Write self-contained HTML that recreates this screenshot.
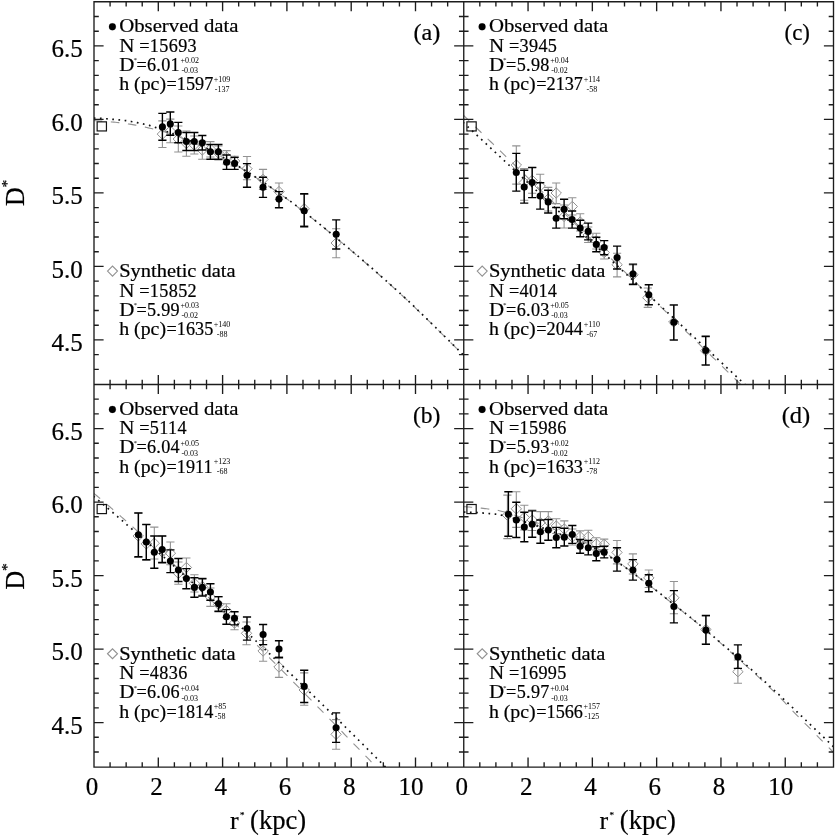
<!DOCTYPE html>
<html lang="en">
<head>
<meta charset="utf-8">
<title>Density profiles</title>
<style>html,body{margin:0;padding:0;background:#fff}svg{display:block}</style>
</head>
<body>
<svg width="836" height="836" viewBox="0 0 836 836">
<rect width="836" height="836" fill="#fff"/>
<defs>
<clipPath id="cpa"><rect x="94" y="1.75" width="369.75" height="382.75"/></clipPath>
<clipPath id="cpb"><rect x="94" y="384.5" width="369.75" height="382.55"/></clipPath>
<clipPath id="cpc"><rect x="463.75" y="1.75" width="369.75" height="382.75"/></clipPath>
<clipPath id="cpd"><rect x="463.75" y="384.5" width="369.75" height="382.55"/></clipPath>
</defs>
<g clip-path="url(#cpa)">
<polyline points="93.7,120.5 94.77,120.59 96.13,120.69 97.73,120.81 99.53,120.95 101.48,121.1 103.53,121.26 105.65,121.42 107.77,121.6 109.87,121.77 111.89,121.95 113.78,122.13 115.5,122.3 117.09,122.47 118.62,122.64 120.1,122.81 121.54,122.98 122.95,123.16 124.34,123.34 125.71,123.52 127.07,123.72 128.43,123.92 129.8,124.14 131.19,124.36 132.6,124.6 134.02,124.85 135.43,125.11 136.82,125.37 138.21,125.64 139.61,125.92 141.01,126.21 142.42,126.51 143.84,126.83 145.29,127.15 146.76,127.49 148.26,127.84 149.8,128.2 151.39,128.58 153.04,128.97 154.74,129.38 156.47,129.8 158.22,130.24 159.98,130.68 161.73,131.13 163.47,131.6 165.18,132.06 166.84,132.54 168.45,133.02 170,133.5 171.45,133.98 172.82,134.44 174.11,134.9 175.35,135.36 176.56,135.83 177.76,136.31 178.98,136.81 180.23,137.34 181.54,137.89 182.92,138.48 184.4,139.12 186,139.8 187.73,140.54 189.58,141.32 191.53,142.15 193.56,143.02 195.64,143.92 197.75,144.84 199.88,145.78 202,146.73 204.09,147.69 206.14,148.64 208.11,149.58 210,150.5 211.8,151.41 213.55,152.32 215.25,153.23 216.91,154.13 218.54,155.05 220.16,155.96 221.76,156.89 223.37,157.82 224.99,158.77 226.63,159.73 228.29,160.71 230,161.7 231.69,162.67 233.3,163.59 234.87,164.48 236.43,165.37 237.99,166.26 239.59,167.19 241.26,168.17 243.02,169.22 244.89,170.37 246.92,171.64 249.11,173.04 251.5,174.6 254.08,176.29 256.8,178.09 259.66,179.97 262.65,181.96 265.75,184.04 268.97,186.21 272.28,188.48 275.69,190.84 279.17,193.29 282.72,195.84 286.33,198.47 290,201.2 293.73,204.01 297.53,206.91 301.41,209.9 305.36,212.98 309.4,216.15 313.52,219.41 317.72,222.77 322,226.23 326.37,229.79 330.83,233.46 335.37,237.22 340,241.1 344.76,245.11 349.68,249.27 354.73,253.57 359.89,257.99 365.13,262.5 370.43,267.1 375.77,271.77 381.13,276.48 386.47,281.23 391.78,285.99 397.03,290.76 402.2,295.5 407.47,300.41 412.97,305.62 418.62,311.05 424.34,316.59 430.06,322.17 435.68,327.69 441.13,333.07 446.32,338.21 451.18,343.02 455.61,347.42 459.55,351.31 462.9,354.6 465.65,357.29 467.87,359.48 469.63,361.21 470.98,362.56 472,363.59 472.74,364.34 473.28,364.9 473.66,365.3 473.96,365.63 474.25,365.93 474.57,366.26 475,366.7" fill="none" stroke="#929292" stroke-width="1.1" stroke-dasharray="8.6 8.6"/>
<path d="M162.4 120.9V147.5M158.3 120.9H166.5M158.3 147.5H166.5M170.3 119.1V142.8M166.2 119.1H174.4M166.2 142.8H174.4M178.3 126V152M174.2 126H182.4M174.2 152H182.4M186.4 131V156.2M182.3 131H190.5M182.3 156.2H190.5M194.3 136V154M190.2 136H198.4M190.2 154H198.4M202.3 141.3V159.2M198.2 141.3H206.4M198.2 159.2H206.4M210.4 141.6V157M206.3 141.6H214.5M206.3 157H214.5M218.4 146V160M214.3 146H222.5M214.3 160H222.5M226.6 150.6V164M222.5 150.6H230.7M222.5 164H230.7M234.6 156.2V166M230.5 156.2H238.7M230.5 166H238.7M247 156.5V179.7M242.9 156.5H251.1M242.9 179.7H251.1M263 169.4V189.5M258.9 169.4H267.1M258.9 189.5H267.1M279 183V199.5M274.9 183H283.1M274.9 199.5H283.1M304.2 194.5V225.5M300.1 194.5H308.3M300.1 225.5H308.3M336.2 228.7V257.7M332.1 228.7H340.3M332.1 257.7H340.3" fill="none" stroke="#929292" stroke-width="1.1"/>
<path d="M157.2 134.1L162.4 128.9L167.6 134.1L162.4 139.3ZM165.1 131L170.3 125.8L175.5 131L170.3 136.2ZM173.1 139L178.3 133.8L183.5 139L178.3 144.2ZM181.2 143.5L186.4 138.3L191.6 143.5L186.4 148.7ZM189.1 145L194.3 139.8L199.5 145L194.3 150.2ZM197.1 150L202.3 144.8L207.5 150L202.3 155.2ZM205.2 149L210.4 143.8L215.6 149L210.4 154.2ZM213.2 153L218.4 147.8L223.6 153L218.4 158.2ZM221.4 157L226.6 151.8L231.8 157L226.6 162.2ZM229.4 161L234.6 155.8L239.8 161L234.6 166.2ZM241.8 168.7L247 163.5L252.2 168.7L247 173.9ZM257.8 179.4L263 174.2L268.2 179.4L263 184.6ZM273.8 191.6L279 186.4L284.2 191.6L279 196.8ZM299 208.8L304.2 203.6L309.4 208.8L304.2 214ZM331 243L336.2 237.8L341.4 243L336.2 248.2Z" fill="none" stroke="#929292" stroke-width="1.0"/>
<polyline points="93.7,118.2 94.05,118.21 94.46,118.21 94.92,118.21 95.45,118.22 96.02,118.22 96.65,118.23 97.32,118.24 98.04,118.26 98.8,118.28 99.6,118.31 100.43,118.35 101.3,118.4 102.22,118.46 103.22,118.53 104.28,118.6 105.4,118.69 106.55,118.77 107.74,118.87 108.94,118.97 110.16,119.07 111.37,119.18 112.58,119.28 113.75,119.39 114.9,119.5 116.01,119.6 117.1,119.7 118.18,119.8 119.24,119.9 120.31,120 121.38,120.1 122.46,120.21 123.56,120.34 124.69,120.48 125.85,120.63 127.05,120.8 128.3,121 129.62,121.22 131.02,121.47 132.49,121.74 134,122.03 135.54,122.34 137.08,122.65 138.62,122.97 140.12,123.29 141.58,123.61 142.98,123.92 144.29,124.22 145.5,124.5 146.55,124.75 147.41,124.94 148.14,125.11 148.77,125.26 149.36,125.4 149.95,125.56 150.58,125.74 151.3,125.97 152.16,126.25 153.2,126.61 154.46,127.05 156,127.6 157.84,128.26 159.94,129.02 162.27,129.88 164.78,130.8 167.42,131.78 170.16,132.81 172.94,133.86 175.72,134.92 178.46,135.98 181.12,137.03 183.65,138.04 186,139 188.22,139.93 190.39,140.85 192.52,141.77 194.59,142.68 196.63,143.59 198.62,144.49 200.59,145.4 202.52,146.31 204.42,147.22 206.3,148.14 208.16,149.07 210,150 211.8,150.94 213.55,151.87 215.25,152.81 216.91,153.74 218.54,154.69 220.16,155.63 221.76,156.58 223.37,157.54 224.99,158.51 226.63,159.5 228.29,160.49 230,161.5 231.69,162.48 233.3,163.41 234.87,164.31 236.43,165.19 237.99,166.08 239.59,167.01 241.26,167.98 243.02,169.03 244.89,170.18 246.92,171.44 249.11,172.84 251.5,174.4 254.08,176.09 256.8,177.89 259.66,179.78 262.65,181.76 265.75,183.84 268.97,186.01 272.28,188.28 275.69,190.64 279.17,193.09 282.72,195.64 286.33,198.27 290,201 293.73,203.81 297.53,206.71 301.41,209.7 305.36,212.78 309.4,215.95 313.52,219.21 317.72,222.57 322,226.03 326.37,229.59 330.83,233.26 335.37,237.02 340,240.9 344.76,244.91 349.68,249.07 354.73,253.37 359.89,257.79 365.13,262.3 370.43,266.9 375.77,271.57 381.13,276.28 386.47,281.03 391.78,285.79 397.03,290.56 402.2,295.3 407.47,300.21 412.97,305.42 418.62,310.85 424.34,316.39 430.06,321.97 435.68,327.49 441.13,332.87 446.32,338.01 451.18,342.82 455.61,347.22 459.55,351.11 462.9,354.4 465.65,357.09 467.87,359.28 469.63,361.01 470.98,362.36 472,363.39 472.74,364.14 473.28,364.7 473.66,365.1 473.96,365.43 474.25,365.73 474.57,366.06 475,366.5" fill="none" stroke="#111" stroke-width="1.7" stroke-dasharray="1.7 4.5"/>
<path d="M162.4 113.4V140.3M158.3 113.4H166.5M158.3 140.3H166.5M170.3 112V135.3M166.2 112H174.4M166.2 135.3H174.4M178.3 122.4V142.8M174.2 122.4H182.4M174.2 142.8H182.4M186.4 132.5V150.5M182.3 132.5H190.5M182.3 150.5H190.5M194.3 132.5V150.5M190.2 132.5H198.4M190.2 150.5H198.4M202.3 135.5V150M198.2 135.5H206.4M198.2 150H206.4M210.4 144.5V159.2M206.3 144.5H214.5M206.3 159.2H214.5M218.4 144.5V159.2M214.3 144.5H222.5M214.3 159.2H222.5M226.6 155V169.4M222.5 155H230.7M222.5 169.4H230.7M234.6 157.4V169.4M230.5 157.4H238.7M230.5 169.4H238.7M247 163.6V187.3M242.9 163.6H251.1M242.9 187.3H251.1M263 177.3V197.4M258.9 177.3H267.1M258.9 197.4H267.1M279 191.6V207.7M274.9 191.6H283.1M274.9 207.7H283.1M304.2 193.8V226.8M300.1 193.8H308.3M300.1 226.8H308.3M336.2 219.9V249M332.1 219.9H340.3M332.1 249H340.3" fill="none" stroke="#000" stroke-width="1.4"/>
<circle cx="162.4" cy="126.9" r="3.55" fill="#000"/>
<circle cx="170.3" cy="123.9" r="3.55" fill="#000"/>
<circle cx="178.3" cy="132.5" r="3.55" fill="#000"/>
<circle cx="186.4" cy="141.5" r="3.55" fill="#000"/>
<circle cx="194.3" cy="141.5" r="3.55" fill="#000"/>
<circle cx="202.3" cy="142.7" r="3.55" fill="#000"/>
<circle cx="210.4" cy="151.8" r="3.55" fill="#000"/>
<circle cx="218.4" cy="151.8" r="3.55" fill="#000"/>
<circle cx="226.6" cy="162.2" r="3.55" fill="#000"/>
<circle cx="234.6" cy="163.4" r="3.55" fill="#000"/>
<circle cx="247" cy="175.3" r="3.55" fill="#000"/>
<circle cx="263" cy="187.3" r="3.55" fill="#000"/>
<circle cx="279" cy="199.1" r="3.55" fill="#000"/>
<circle cx="304.2" cy="210.7" r="3.55" fill="#000"/>
<circle cx="336.2" cy="234.3" r="3.55" fill="#000"/>
</g>
<g clip-path="url(#cpb)">
<polyline points="93.5,493 94.22,493.62 95.13,494.38 96.2,495.28 97.39,496.29 98.69,497.38 100.06,498.54 101.49,499.75 102.94,500.98 104.4,502.21 105.83,503.43 107.2,504.6 108.5,505.71 109.75,506.78 111,507.86 112.25,508.94 113.5,510.02 114.75,511.1 116,512.18 117.25,513.27 118.5,514.35 119.75,515.44 121,516.54 122.25,517.63 123.5,518.73 124.75,519.82 126,520.92 127.25,522.03 128.5,523.13 129.75,524.24 131,525.35 132.25,526.46 133.5,527.57 134.75,528.68 136,529.8 137.25,530.92 138.5,532.03 139.75,533.16 141,534.28 142.25,535.41 143.5,536.53 144.75,537.66 146,538.79 147.25,539.93 148.5,541.06 149.75,542.2 151,543.33 152.25,544.47 153.5,545.62 154.75,546.76 156,547.9 157.25,549.05 158.5,550.2 159.75,551.35 161,552.5 162.25,553.66 163.5,554.81 164.75,555.97 166,557.13 167.25,558.29 168.5,559.45 169.75,560.61 171,561.78 172.25,562.95 173.5,564.11 174.75,565.29 176,566.46 177.25,567.63 178.5,568.81 179.75,569.98 181,571.16 182.25,572.34 183.5,573.52 184.75,574.7 186,575.89 187.25,577.07 188.5,578.26 189.75,579.45 191,580.64 192.25,581.83 193.5,583.02 194.75,584.22 196,585.41 197.25,586.61 198.5,587.81 199.75,589.01 201,590.21 202.25,591.41 203.5,592.61 204.75,593.82 206,595.02 207.25,596.23 208.5,597.44 209.75,598.65 211,599.86 212.25,601.07 213.5,602.29 214.75,603.5 216,604.72 217.25,605.94 218.5,607.16 219.75,608.38 221,609.6 222.25,610.82 223.5,612.04 224.75,613.27 226,614.49 227.25,615.72 228.5,616.95 229.75,618.18 231,619.41 232.25,620.64 233.5,621.87 234.75,623.11 236,624.34 237.25,625.58 238.5,626.81 239.75,628.05 241,629.29 242.25,630.53 243.5,631.77 244.75,633.01 246,634.25 247.25,635.5 248.5,636.74 249.75,637.99 251,639.23 252.25,640.48 253.5,641.73 254.75,642.98 256,644.23 257.25,645.48 258.5,646.73 259.75,647.98 261,649.24 262.25,650.49 263.5,651.75 264.75,653 266,654.26 267.25,655.52 268.5,656.77 269.75,658.03 271,659.29 272.25,660.55 273.5,661.81 274.75,663.08 276,664.34 277.25,665.6 278.5,666.86 279.75,668.13 281,669.39 282.25,670.66 283.5,671.93 284.75,673.19 286,674.46 287.25,675.73 288.5,677 289.75,678.27 291,679.54 292.25,680.81 293.5,682.08 294.75,683.35 296,684.62 297.25,685.9 298.5,687.17 299.75,688.44 301,689.72 302.25,690.99 303.5,692.27 304.75,693.54 306,694.82 307.25,696.1 308.5,697.37 309.75,698.65 311,699.93 312.25,701.21 313.5,702.49 314.75,703.76 316,705.04 317.25,706.32 318.5,707.6 319.75,708.88 321,710.16 322.25,711.44 323.5,712.73 324.75,714.01 326,715.29 327.25,716.57 328.5,717.85 329.75,719.14 331,720.42 332.25,721.7 333.5,722.98 334.75,724.27 336,725.55 337.25,726.83 338.5,728.12 339.75,729.4 341,730.69 342.25,731.97 343.5,733.25 344.75,734.54 346,735.82 347.25,737.11 348.5,738.39 349.75,739.68 351,740.96 352.25,742.25 353.5,743.53 354.75,744.82 356,746.1 357.25,747.38 358.5,748.67 359.75,749.95 361,751.24 362.25,752.52 363.5,753.81 364.75,755.09 366,756.38 367.25,757.66 368.5,758.95 369.75,760.23 371,761.51 372.25,762.8 373.5,764.08 374.75,765.36 376,766.65 377.25,767.93 378.5,769.21 379.8,770.55 381.17,771.96 382.6,773.42 384.06,774.91 385.51,776.4 386.94,777.87 388.31,779.28 389.61,780.61 390.8,781.83 391.87,782.92 392.78,783.85 393.5,784.59" fill="none" stroke="#929292" stroke-width="1.1" stroke-dasharray="8.6 8.6"/>
<path d="M138.2 513V557.5M134.1 513H142.3M134.1 557.5H142.3M146.3 524.5V560.3M142.2 524.5H150.4M142.2 560.3H150.4M154.3 527.1V559M150.2 527.1H158.4M150.2 559H158.4M162.2 536V563.3M158.1 536H166.3M158.1 563.3H166.3M170.4 542V564.7M166.3 542H174.5M166.3 564.7H174.5M178.4 562V584.3M174.3 562H182.5M174.3 584.3H182.5M186.4 558V577.5M182.3 558H190.5M182.3 577.5H190.5M194.4 574.7V592M190.3 574.7H198.5M190.3 592H198.5M202.4 578V595M198.3 578H206.5M198.3 595H206.5M210.4 588V606.4M206.3 588H214.5M206.3 606.4H214.5M218.5 597V612M214.4 597H222.6M214.4 612H222.6M226.4 603.8V617.5M222.3 603.8H230.5M222.3 617.5H230.5M234.5 616V629.7M230.4 616H238.6M230.4 629.7H238.6M246.5 622V644.7M242.4 622H250.6M242.4 644.7H250.6M263.1 640.5V661.2M259 640.5H267.2M259 661.2H267.2M279 656.5V677.4M274.9 656.5H283.1M274.9 677.4H283.1M304.2 672.9V705.2M300.1 672.9H308.3M300.1 705.2H308.3M336.1 719.6V749.2M332 719.6H340.2M332 749.2H340.2" fill="none" stroke="#929292" stroke-width="1.1"/>
<path d="M133 536L138.2 530.8L143.4 536L138.2 541.2ZM141.1 543.9L146.3 538.7L151.5 543.9L146.3 549.1ZM149.1 543.2L154.3 538L159.5 543.2L154.3 548.4ZM157 552L162.2 546.8L167.4 552L162.2 557.2ZM165.2 553.2L170.4 548L175.6 553.2L170.4 558.4ZM173.2 573.3L178.4 568.1L183.6 573.3L178.4 578.5ZM181.2 567.5L186.4 562.3L191.6 567.5L186.4 572.7ZM189.2 583.3L194.4 578.1L199.6 583.3L194.4 588.5ZM197.2 586.5L202.4 581.3L207.6 586.5L202.4 591.7ZM205.2 597L210.4 591.8L215.6 597L210.4 602.2ZM213.3 604.5L218.5 599.3L223.7 604.5L218.5 609.7ZM221.2 610.5L226.4 605.3L231.6 610.5L226.4 615.7ZM229.3 623L234.5 617.8L239.7 623L234.5 628.2ZM241.3 633.3L246.5 628.1L251.7 633.3L246.5 638.5ZM257.9 651L263.1 645.8L268.3 651L263.1 656.2ZM273.8 667L279 661.8L284.2 667L279 672.2ZM299 690L304.2 684.8L309.4 690L304.2 695.2ZM330.9 734.3L336.1 729.1L341.3 734.3L336.1 739.5Z" fill="none" stroke="#929292" stroke-width="1.0"/>
<polyline points="93.5,496.16 94.22,496.78 95.13,497.55 96.2,498.45 97.39,499.46 98.69,500.56 100.06,501.73 101.49,502.94 102.94,504.18 104.4,505.42 105.83,506.63 107.2,507.8 108.5,508.91 109.75,509.98 111,511.05 112.25,512.12 113.5,513.19 114.75,514.26 116,515.33 117.25,516.4 118.5,517.48 119.75,518.55 121,519.63 122.25,520.7 123.5,521.78 124.75,522.86 126,523.94 127.25,525.02 128.5,526.1 129.75,527.18 131,528.27 132.25,529.35 133.5,530.43 134.75,531.52 136,532.61 137.25,533.69 138.5,534.78 139.75,535.87 141,536.96 142.25,538.05 143.5,539.14 144.75,540.24 146,541.33 147.25,542.42 148.5,543.52 149.75,544.61 151,545.71 152.25,546.81 153.5,547.91 154.75,549.01 156,550.11 157.25,551.21 158.5,552.31 159.75,553.42 161,554.52 162.25,555.62 163.5,556.73 164.75,557.84 166,558.94 167.25,560.05 168.5,561.16 169.75,562.27 171,563.38 172.25,564.49 173.5,565.61 174.75,566.72 176,567.84 177.25,568.95 178.5,570.07 179.75,571.18 181,572.3 182.25,573.42 183.5,574.54 184.75,575.66 186,576.78 187.25,577.91 188.5,579.03 189.75,580.15 191,581.28 192.25,582.41 193.5,583.53 194.75,584.66 196,585.79 197.25,586.92 198.5,588.05 199.75,589.18 201,590.31 202.25,591.45 203.5,592.58 204.75,593.71 206,594.85 207.25,595.99 208.5,597.12 209.75,598.26 211,599.4 212.25,600.54 213.5,601.68 214.75,602.82 216,603.97 217.25,605.11 218.5,606.26 219.75,607.4 221,608.55 222.25,609.69 223.5,610.84 224.75,611.99 226,613.14 227.25,614.29 228.5,615.44 229.75,616.6 231,617.75 232.25,618.9 233.5,620.06 234.75,621.21 236,622.37 237.25,623.53 238.5,624.69 239.75,625.85 241,627.01 242.25,628.17 243.5,629.33 244.75,630.49 246,631.66 247.25,632.82 248.5,633.99 249.75,635.15 251,636.32 252.25,637.49 253.5,638.66 254.75,639.83 256,641 257.25,642.17 258.5,643.34 259.75,644.52 261,645.69 262.25,646.87 263.5,648.04 264.75,649.22 266,650.4 267.25,651.58 268.5,652.76 269.75,653.94 271,655.12 272.25,656.3 273.5,657.49 274.75,658.67 276,659.85 277.25,661.04 278.5,662.23 279.75,663.42 281,664.6 282.25,665.79 283.5,666.98 284.75,668.17 286,669.37 287.25,670.56 288.5,671.75 289.75,672.95 291,674.14 292.25,675.34 293.5,676.54 294.75,677.74 296,678.93 297.25,680.13 298.5,681.34 299.75,682.54 301,683.74 302.25,684.94 303.5,686.15 304.75,687.35 306,688.56 307.25,689.77 308.5,690.97 309.75,692.18 311,693.39 312.25,694.6 313.5,695.82 314.75,697.03 316,698.24 317.25,699.45 318.5,700.67 319.75,701.89 321,703.1 322.25,704.32 323.5,705.54 324.75,706.76 326,707.98 327.25,709.2 328.5,710.42 329.75,711.64 331,712.87 332.25,714.09 333.5,715.32 334.75,716.54 336,717.77 337.25,719 338.5,720.23 339.75,721.46 341,722.69 342.25,723.92 343.5,725.15 344.75,726.39 346,727.62 347.25,728.86 348.5,730.09 349.75,731.33 351,732.57 352.25,733.81 353.5,735.05 354.75,736.29 356,737.53 357.25,738.77 358.5,740.01 359.75,741.26 361,742.5 362.25,743.75 363.5,745 364.75,746.24 366,747.49 367.25,748.74 368.5,749.99 369.75,751.24 371,752.49 372.25,753.75 373.5,755 374.75,756.26 376,757.51 377.25,758.77 378.5,760.02 379.8,761.33 381.17,762.72 382.6,764.16 384.06,765.63 385.51,767.1 386.94,768.54 388.31,769.93 389.61,771.25 390.8,772.45 391.87,773.53 392.78,774.45 393.5,775.18" fill="none" stroke="#111" stroke-width="1.7" stroke-dasharray="1.7 4.5"/>
<path d="M138.4 513V556.8M134.3 513H142.5M134.3 556.8H142.5M146.3 524.5V559.7M142.2 524.5H150.4M142.2 559.7H150.4M154.3 536V568.3M150.2 536H158.4M150.2 568.3H158.4M162.2 536V562.5M158.1 536H166.3M158.1 562.5H166.3M170.4 549.9V572.6M166.3 549.9H174.5M166.3 572.6H174.5M178.4 558.5V581.5M174.3 558.5H182.5M174.3 581.5H182.5M186.4 568.6V588.8M182.3 568.6H190.5M182.3 588.8H190.5M194.4 577.8V597.3M190.3 577.8H198.5M190.3 597.3H198.5M202.4 578.8V596M198.3 578.8H206.5M198.3 596H206.5M210.4 583.7V600.2M206.3 583.7H214.5M206.3 600.2H214.5M218.5 596.6V611.3M214.4 596.6H222.6M214.4 611.3H222.6M226.4 609.6V624.2M222.3 609.6H230.5M222.3 624.2H230.5M234.5 611.7V624.9M230.4 611.7H238.6M230.4 624.9H238.6M247 617V640.1M242.9 617H251.1M242.9 640.1H251.1M263.1 624.5V644.6M259 624.5H267.2M259 644.6H267.2M279 640.7V657.7M274.9 640.7H283.1M274.9 657.7H283.1M304.2 670.2V702.5M300.1 670.2H308.3M300.1 702.5H308.3M336.1 712.9V742.4M332 712.9H340.2M332 742.4H340.2" fill="none" stroke="#000" stroke-width="1.4"/>
<circle cx="138.4" cy="534.8" r="3.55" fill="#000"/>
<circle cx="146.3" cy="542" r="3.55" fill="#000"/>
<circle cx="154.3" cy="552.2" r="3.55" fill="#000"/>
<circle cx="162.2" cy="549.6" r="3.55" fill="#000"/>
<circle cx="170.4" cy="561.1" r="3.55" fill="#000"/>
<circle cx="178.4" cy="570" r="3.55" fill="#000"/>
<circle cx="186.4" cy="578.6" r="3.55" fill="#000"/>
<circle cx="194.4" cy="587.4" r="3.55" fill="#000"/>
<circle cx="202.4" cy="587.4" r="3.55" fill="#000"/>
<circle cx="210.4" cy="592" r="3.55" fill="#000"/>
<circle cx="218.5" cy="603.8" r="3.55" fill="#000"/>
<circle cx="226.4" cy="616.7" r="3.55" fill="#000"/>
<circle cx="234.5" cy="618.2" r="3.55" fill="#000"/>
<circle cx="247" cy="628.5" r="3.55" fill="#000"/>
<circle cx="263.1" cy="634.5" r="3.55" fill="#000"/>
<circle cx="279" cy="649" r="3.55" fill="#000"/>
<circle cx="304.2" cy="686.4" r="3.55" fill="#000"/>
<circle cx="336.1" cy="727.7" r="3.55" fill="#000"/>
</g>
<g clip-path="url(#cpc)">
<polyline points="463,114.82 464.16,115.94 465.61,117.35 467.31,119 469.22,120.86 471.3,122.87 473.5,125.01 475.78,127.23 478.11,129.49 480.44,131.75 482.72,133.96 484.92,136.1 487,138.12 489,140.06 491,142 493,143.94 495,145.88 497,147.82 499,149.77 501,151.71 503,153.65 505,155.59 507,157.53 509,159.47 511,161.42 513,163.36 515,165.3 517,167.24 519,169.18 521,171.12 523,173.07 525,175.01 527,176.95 529,178.89 531,180.83 533,182.77 535,184.72 537,186.66 539,188.6 541,190.54 543,192.48 545,194.42 547,196.36 549,198.31 551,200.25 553,202.19 555,204.13 557,206.07 559,208.01 561,209.96 563,211.9 565,213.84 567,215.78 569,217.72 571,219.66 573,221.61 575,223.55 577,225.49 579,227.43 581,229.37 583,231.31 585,233.26 587,235.2 589,237.14 591,239.08 593,241.02 595,242.96 597,244.9 599,246.85 601,248.79 603,250.73 605,252.67 607,254.61 609,256.55 611,258.5 613,260.44 615,262.38 617,264.32 619,266.26 621,268.2 623,270.15 625,272.09 627,274.03 629,275.97 631,277.91 633,279.85 635,281.8 637,283.74 639,285.68 641,287.62 643,289.56 645,291.5 647,293.44 649,295.39 651,297.33 653,299.27 655,301.21 657,303.15 659,305.09 661,307.04 663,308.98 665,310.92 667,312.86 669,314.8 671,316.74 673,318.69 675,320.63 677,322.57 679,324.51 681,326.45 683,328.39 685,330.34 687,332.28 689,334.22 691,336.16 693,338.1 695,340.04 697,341.98 699,343.93 701,345.87 703,347.81 705,349.75 707,351.69 709,353.63 711,355.58 713,357.52 715,359.46 717,361.4 719,363.34 721,365.28 723,367.23 725,369.17 727,371.11 729.08,373.12 731.28,375.26 733.56,377.48 735.89,379.74 738.22,382 740.5,384.21 742.7,386.35 744.78,388.37 746.69,390.22 748.39,391.87 749.84,393.28 751,394.41" fill="none" stroke="#929292" stroke-width="1.1" stroke-dasharray="8.6 8.6"/>
<path d="M516.3 145.9V184.1M512.2 145.9H520.4M512.2 184.1H520.4M524.2 168.5V200.3M520.1 168.5H528.3M520.1 200.3H528.3M532.2 167.5V193.3M528.1 167.5H536.3M528.1 193.3H536.3M540.2 174.2V197M536.1 174.2H544.3M536.1 197H544.3M548.2 187.4V211M544.1 187.4H552.3M544.1 211H552.3M556.2 183V203.6M552.1 183H560.3M552.1 203.6H560.3M564.1 205V228M560 205H568.2M560 228H568.2M572.3 197.8V215M568.2 197.8H576.4M568.2 215H576.4M580.2 213.8V231M576.1 213.8H584.3M576.1 231H584.3M588.2 227V242.5M584.1 227H592.3M584.1 242.5H592.3M596.3 233.2V249M592.2 233.2H600.4M592.2 249H600.4M604.2 246V259M600.1 246H608.3M600.1 259H608.3M617.1 253.3V276.9M613 253.3H621.2M613 276.9H621.2M633 265V285M628.9 265H637.1M628.9 285H637.1M647.8 288V307.4M643.7 288H651.9M643.7 307.4H651.9M673.8 305.5V339.5M669.7 305.5H677.9M669.7 339.5H677.9M705.7 337V364.5M701.6 337H709.8M701.6 364.5H709.8" fill="none" stroke="#929292" stroke-width="1.1"/>
<path d="M511.1 165L516.3 159.8L521.5 165L516.3 170.2ZM519 182.5L524.2 177.3L529.4 182.5L524.2 187.7ZM527 180.4L532.2 175.2L537.4 180.4L532.2 185.6ZM535 186L540.2 180.8L545.4 186L540.2 191.2ZM543 199L548.2 193.8L553.4 199L548.2 204.2ZM551 193L556.2 187.8L561.4 193L556.2 198.2ZM558.9 216.4L564.1 211.2L569.3 216.4L564.1 221.6ZM567.1 206.5L572.3 201.3L577.5 206.5L572.3 211.7ZM575 222L580.2 216.8L585.4 222L580.2 227.2ZM583 235L588.2 229.8L593.4 235L588.2 240.2ZM591.1 241L596.3 235.8L601.5 241L596.3 246.2ZM599 252.5L604.2 247.3L609.4 252.5L604.2 257.7ZM611.9 264.7L617.1 259.5L622.3 264.7L617.1 269.9ZM627.8 274.8L633 269.6L638.2 274.8L633 280ZM642.6 297.7L647.8 292.5L653 297.7L647.8 302.9ZM668.6 322L673.8 316.8L679 322L673.8 327.2ZM700.5 350.8L705.7 345.6L710.9 350.8L705.7 356Z" fill="none" stroke="#929292" stroke-width="1.0"/>
<polyline points="463,122.29 464.16,123.37 465.61,124.72 467.31,126.3 469.22,128.08 471.3,130.01 473.5,132.05 475.78,134.18 478.11,136.34 480.44,138.5 482.72,140.63 484.92,142.68 487,144.61 489,146.47 491,148.33 493,150.19 495,152.04 497,153.9 499,155.76 501,157.62 503,159.48 505,161.34 507,163.2 509,165.06 511,166.92 513,168.78 515,170.64 517,172.5 519,174.36 521,176.22 523,178.08 525,179.94 527,181.8 529,183.66 531,185.52 533,187.38 535,189.24 537,191.1 539,192.96 541,194.82 543,196.68 545,198.53 547,200.39 549,202.25 551,204.11 553,205.97 555,207.83 557,209.69 559,211.55 561,213.41 563,215.27 565,217.13 567,218.99 569,220.85 571,222.71 573,224.57 575,226.43 577,228.29 579,230.15 581,232.01 583,233.87 585,235.73 587,237.59 589,239.45 591,241.31 593,243.17 595,245.02 597,246.88 599,248.74 601,250.6 603,252.46 605,254.32 607,256.18 609,258.04 611,259.9 613,261.76 615,263.62 617,265.48 619,267.34 621,269.2 623,271.06 625,272.92 627,274.78 629,276.64 631,278.5 633,280.36 635,282.22 637,284.08 639,285.94 641,287.8 643,289.66 645,291.51 647,293.37 649,295.23 651,297.09 653,298.95 655,300.81 657,302.67 659,304.53 661,306.39 663,308.25 665,310.11 667,311.97 669,313.83 671,315.69 673,317.55 675,319.41 677,321.27 679,323.13 681,324.99 683,326.85 685,328.71 687,330.57 689,332.43 691,334.29 693,336.15 695,338 697,339.86 699,341.72 701,343.58 703,345.44 705,347.3 707,349.16 709,351.02 711,352.88 713,354.74 715,356.6 717,358.46 719,360.32 721,362.18 723,364.04 725,365.9 727,367.76 729.08,369.69 731.28,371.74 733.56,373.86 735.89,376.02 738.22,378.19 740.5,380.31 742.7,382.36 744.78,384.29 746.69,386.06 748.39,387.65 749.84,389 751,390.07" fill="none" stroke="#111" stroke-width="1.7" stroke-dasharray="1.7 4.5"/>
<path d="M516.3 153.4V191.1M512.2 153.4H520.4M512.2 191.1H520.4M524.2 170.3V203.1M520.1 170.3H528.3M520.1 203.1H528.3M532.2 167.5V197.6M528.1 167.5H536.3M528.1 197.6H536.3M540.2 182.8V209.1M536.1 182.8H544.3M536.1 209.1H544.3M548.2 190.3V213M544.1 190.3H552.3M544.1 213H552.3M556.2 207.5V228.1M552.1 207.5H560.3M552.1 228.1H560.3M564.1 199.2V218.8M560 199.2H568.2M560 218.8H568.2M572.1 211V228.1M568 211H576.2M568 228.1H576.2M580.2 220.2V236.7M576.1 220.2H584.3M576.1 236.7H584.3M588.2 223.1V239.9M584.1 223.1H592.3M584.1 239.9H592.3M596.3 237.2V251.8M592.2 237.2H600.4M592.2 251.8H600.4M604.2 240.6V254.7M600.1 240.6H608.3M600.1 254.7H608.3M617.1 246.1V269M613 246.1H621.2M613 269H621.2M633 264.1V284.2M628.9 264.1H637.1M628.9 284.2H637.1M648.8 284.8V304.8M644.7 284.8H652.9M644.7 304.8H652.9M673.8 304.9V340.1M669.7 304.9H677.9M669.7 340.1H677.9M705.7 336.2V365.1M701.6 336.2H709.8M701.6 365.1H709.8" fill="none" stroke="#000" stroke-width="1.4"/>
<circle cx="516.3" cy="172.5" r="3.55" fill="#000"/>
<circle cx="524.2" cy="187.1" r="3.55" fill="#000"/>
<circle cx="532.2" cy="182.5" r="3.55" fill="#000"/>
<circle cx="540.2" cy="196" r="3.55" fill="#000"/>
<circle cx="548.2" cy="201.9" r="3.55" fill="#000"/>
<circle cx="556.2" cy="218.2" r="3.55" fill="#000"/>
<circle cx="564.1" cy="209.2" r="3.55" fill="#000"/>
<circle cx="572.1" cy="219.5" r="3.55" fill="#000"/>
<circle cx="580.2" cy="228.1" r="3.55" fill="#000"/>
<circle cx="588.2" cy="231.4" r="3.55" fill="#000"/>
<circle cx="596.3" cy="244.4" r="3.55" fill="#000"/>
<circle cx="604.2" cy="247.5" r="3.55" fill="#000"/>
<circle cx="617.1" cy="257.6" r="3.55" fill="#000"/>
<circle cx="633" cy="274" r="3.55" fill="#000"/>
<circle cx="648.8" cy="294.7" r="3.55" fill="#000"/>
<circle cx="673.8" cy="322.3" r="3.55" fill="#000"/>
<circle cx="705.7" cy="350.5" r="3.55" fill="#000"/>
</g>
<g clip-path="url(#cpd)">
<polyline points="463.6,506.6 464.64,506.69 465.95,506.8 467.49,506.93 469.22,507.07 471.1,507.22 473.08,507.39 475.13,507.57 477.21,507.76 479.28,507.95 481.3,508.16 483.22,508.38 485,508.6 486.64,508.81 488.17,508.99 489.63,509.15 491.05,509.31 492.45,509.48 493.87,509.68 495.34,509.9 496.89,510.18 498.54,510.51 500.35,510.92 502.32,511.41 504.5,512 506.88,512.69 509.44,513.46 512.14,514.3 514.98,515.21 517.93,516.19 520.97,517.21 524.08,518.28 527.24,519.39 530.43,520.52 533.64,521.67 536.83,522.83 540,524 543.23,525.21 546.59,526.48 550.06,527.81 553.59,529.17 557.16,530.57 560.72,531.98 564.24,533.39 567.69,534.79 571.02,536.17 574.21,537.5 577.21,538.78 580,540 582.58,541.15 584.98,542.25 587.24,543.31 589.36,544.34 591.38,545.34 593.3,546.32 595.15,547.29 596.95,548.26 598.71,549.24 600.46,550.23 602.22,551.25 604,552.3 605.78,553.38 607.53,554.48 609.24,555.6 610.91,556.73 612.55,557.87 614.16,559.01 615.74,560.14 617.29,561.27 618.81,562.39 620.3,563.48 621.76,564.56 623.2,565.6 624.58,566.61 625.89,567.57 627.14,568.51 628.35,569.42 629.52,570.32 630.69,571.22 631.85,572.12 633.03,573.03 634.24,573.97 635.49,574.94 636.81,575.94 638.2,577 639.69,578.13 641.29,579.32 642.96,580.58 644.69,581.87 646.45,583.19 648.21,584.51 649.96,585.82 651.67,587.1 653.31,588.33 654.86,589.51 656.3,590.6 657.6,591.6 658.67,592.43 659.48,593.06 660.1,593.55 660.58,593.94 661,594.29 661.42,594.64 661.9,595.05 662.52,595.57 663.33,596.24 664.4,597.12 665.81,598.25 667.6,599.7 669.73,601.4 672.1,603.25 674.69,605.27 677.49,607.44 680.49,609.77 683.67,612.26 687.02,614.9 690.53,617.69 694.19,620.64 697.97,623.74 701.88,627 705.9,630.4 710.18,634.08 714.85,638.12 719.82,642.46 725.02,647.01 730.36,651.72 735.77,656.52 741.17,661.33 746.47,666.09 751.61,670.72 756.49,675.16 761.05,679.35 765.2,683.2 768.96,686.75 772.43,690.1 775.66,693.27 778.67,696.29 781.51,699.18 784.22,701.98 786.84,704.72 789.41,707.41 791.97,710.1 794.56,712.81 797.23,715.57 800,718.4 802.9,721.34 805.9,724.38 808.96,727.48 812.04,730.61 815.12,733.73 818.15,736.81 821.1,739.8 823.93,742.68 826.62,745.4 829.11,747.94 831.38,750.25 833.4,752.3 835.17,754.1 836.73,755.69 838.1,757.1 839.31,758.34 840.37,759.42 841.29,760.37 842.09,761.2 842.8,761.93 843.43,762.58 843.99,763.16 844.51,763.69 845,764.2" fill="none" stroke="#929292" stroke-width="1.1" stroke-dasharray="8.6 8.6"/>
<path d="M507.4 495.1V538.6M503.3 495.1H511.5M503.3 538.6H511.5M516.3 491.8V527.4M512.2 491.8H520.4M512.2 527.4H520.4M524.3 505.2V530M520.2 505.2H528.4M520.2 530H528.4M532.2 510V530.5M528.1 510H536.3M528.1 530.5H536.3M540.4 511.6V533M536.3 511.6H544.5M536.3 533H544.5M548.3 511.6V530.5M544.2 511.6H552.4M544.2 530.5H552.4M556.3 518.8V533.5M552.2 518.8H560.4M552.2 533.5H560.4M564.3 520.9V537M560.2 520.9H568.4M560.2 537H568.4M572.3 529V545M568.2 529H576.4M568.2 545H576.4M580.1 530.9V542.5M576 530.9H584.2M576 542.5H584.2M588.3 530.2V543M584.2 530.2H592.4M584.2 543H592.4M596.3 537.7V550M592.2 537.7H600.4M592.2 550H600.4M604.2 539.1V549.5M600.1 539.1H608.3M600.1 549.5H608.3M617 540.5V563.9M612.9 540.5H621.1M612.9 563.9H621.1M632.9 553.9V574M628.8 553.9H637M628.8 574H637M648.8 570V587.5M644.7 570H652.9M644.7 587.5H652.9M673.9 581.5V613.8M669.8 581.5H678M669.8 613.8H678M705.9 616V643.5M701.8 616H710M701.8 643.5H710M737.9 660V683.2M733.8 660H742M733.8 683.2H742" fill="none" stroke="#929292" stroke-width="1.1"/>
<path d="M502.2 515.2L507.4 510L512.6 515.2L507.4 520.4ZM511.1 508.8L516.3 503.6L521.5 508.8L516.3 514ZM519.1 517.4L524.3 512.2L529.5 517.4L524.3 522.6ZM527 520L532.2 514.8L537.4 520L532.2 525.2ZM535.2 522.5L540.4 517.3L545.6 522.5L540.4 527.7ZM543.1 521L548.3 515.8L553.5 521L548.3 526.2ZM551.1 526L556.3 520.8L561.5 526L556.3 531.2ZM559.1 529L564.3 523.8L569.5 529L564.3 534.2ZM567.1 537L572.3 531.8L577.5 537L572.3 542.2ZM574.9 536.6L580.1 531.4L585.3 536.6L580.1 541.8ZM583.1 536.6L588.3 531.4L593.5 536.6L588.3 541.8ZM591.1 543.8L596.3 538.6L601.5 543.8L596.3 549ZM599 544.3L604.2 539.1L609.4 544.3L604.2 549.5ZM611.8 552.4L617 547.2L622.2 552.4L617 557.6ZM627.7 563.9L632.9 558.7L638.1 563.9L632.9 569.1ZM643.6 577.9L648.8 572.7L654 577.9L648.8 583.1ZM668.7 597.8L673.9 592.6L679.1 597.8L673.9 603ZM700.7 629.5L705.9 624.3L711.1 629.5L705.9 634.7ZM732.7 671.7L737.9 666.5L743.1 671.7L737.9 676.9Z" fill="none" stroke="#929292" stroke-width="1.0"/>
<polyline points="463.7,512 464.73,512.05 466.04,512.11 467.57,512.18 469.29,512.26 471.16,512.34 473.13,512.43 475.17,512.53 477.24,512.64 479.3,512.77 481.31,512.9 483.22,513.04 485,513.2 486.64,513.35 488.17,513.47 489.63,513.57 491.04,513.68 492.44,513.79 493.86,513.93 495.33,514.1 496.88,514.32 498.54,514.6 500.34,514.95 502.32,515.38 504.5,515.9 506.88,516.52 509.44,517.22 512.14,517.99 514.98,518.83 517.93,519.73 520.97,520.68 524.08,521.67 527.24,522.7 530.43,523.75 533.64,524.83 536.83,525.91 540,527 543.23,528.12 546.59,529.31 550.06,530.56 553.59,531.84 557.16,533.15 560.72,534.48 564.24,535.8 567.69,537.11 571.02,538.4 574.21,539.66 577.21,540.86 580,542 582.58,543.08 584.98,544.11 587.24,545.1 589.36,546.06 591.38,546.99 593.3,547.91 595.15,548.81 596.95,549.72 598.71,550.64 600.46,551.57 602.22,552.52 604,553.5 605.78,554.51 607.53,555.54 609.24,556.59 610.91,557.65 612.55,558.71 614.16,559.78 615.74,560.85 617.29,561.91 618.81,562.96 620.3,563.99 621.76,565.01 623.2,566 624.58,566.96 625.89,567.88 627.14,568.77 628.35,569.65 629.52,570.51 630.69,571.38 631.85,572.24 633.03,573.13 634.24,574.04 635.49,574.98 636.81,575.97 638.2,577 639.69,578.11 641.29,579.29 642.96,580.53 644.69,581.81 646.45,583.12 648.21,584.44 649.96,585.74 651.67,587.02 653.31,588.25 654.86,589.42 656.3,590.51 657.6,591.5 658.67,592.32 659.48,592.95 660.1,593.43 660.58,593.81 661,594.15 661.42,594.49 661.9,594.89 662.52,595.4 663.33,596.06 664.4,596.93 665.81,598.06 667.6,599.5 669.73,601.19 672.1,603.05 674.69,605.06 677.49,607.24 680.49,609.57 683.67,612.06 687.02,614.7 690.53,617.49 694.19,620.42 697.97,623.51 701.88,626.73 705.9,630.1 710.08,633.64 714.47,637.37 719.04,641.28 723.78,645.35 728.67,649.57 733.68,653.92 738.8,658.4 744,662.97 749.26,667.63 754.56,672.37 759.88,677.16 765.2,682 770.75,687.11 776.71,692.65 782.95,698.51 789.37,704.57 795.85,710.72 802.28,716.84 808.55,722.83 814.53,728.55 820.12,733.91 825.21,738.78 829.67,743.05 833.4,746.6 836.39,749.44 838.74,751.69 840.55,753.42 841.89,754.7 842.83,755.62 843.46,756.24 843.86,756.63 844.09,756.87 844.24,757.04 844.39,757.2 844.62,757.43 845,757.8" fill="none" stroke="#111" stroke-width="1.7" stroke-dasharray="1.7 4.5"/>
<path d="M508.4 491.8V536.3M504.3 491.8H512.5M504.3 536.3H512.5M516.3 502.3V537.5M512.2 502.3H520.4M512.2 537.5H520.4M524.3 512.3V541.8M520.2 512.3H528.4M520.2 541.8H528.4M532.2 510.9V537.2M528.1 510.9H536.3M528.1 537.2H536.3M540.4 520V543.2M536.3 520H544.5M536.3 543.2H544.5M548.3 519.5V540.3M544.2 519.5H552.4M544.2 540.3H552.4M556.3 527.4V547.8M552.2 527.4H560.4M552.2 547.8H560.4M564.3 528.2V546M560.2 528.2H568.4M560.2 546H568.4M572.3 525.5V543.4M568.2 525.5H576.4M568.2 543.4H576.4M580.1 539.5V553.2M576 539.5H584.2M576 553.2H584.2M588.3 540.5V554.9M584.2 540.5H592.4M584.2 554.9H592.4M596.3 546.7V560.8M592.2 546.7H600.4M592.2 560.8H600.4M604.2 546.3V557.9M600.1 546.3H608.3M600.1 557.9H608.3M617 547.7V571.1M612.9 547.7H621.1M612.9 571.1H621.1M632.9 559.6V580.1M628.8 559.6H637M628.8 580.1H637M648.8 574.8V591.8M644.7 574.8H652.9M644.7 591.8H652.9M673.9 590.6V622.9M669.8 590.6H678M669.8 622.9H678M705.9 615.5V644.4M701.8 615.5H710M701.8 644.4H710M737.9 644.9V668.4M733.8 644.9H742M733.8 668.4H742" fill="none" stroke="#000" stroke-width="1.4"/>
<circle cx="508.4" cy="514.2" r="3.55" fill="#000"/>
<circle cx="516.3" cy="520" r="3.55" fill="#000"/>
<circle cx="524.3" cy="527.1" r="3.55" fill="#000"/>
<circle cx="532.2" cy="524.3" r="3.55" fill="#000"/>
<circle cx="540.4" cy="531.7" r="3.55" fill="#000"/>
<circle cx="548.3" cy="530" r="3.55" fill="#000"/>
<circle cx="556.3" cy="537.5" r="3.55" fill="#000"/>
<circle cx="564.3" cy="537.3" r="3.55" fill="#000"/>
<circle cx="572.3" cy="534.5" r="3.55" fill="#000"/>
<circle cx="580.1" cy="546.3" r="3.55" fill="#000"/>
<circle cx="588.3" cy="547.8" r="3.55" fill="#000"/>
<circle cx="596.3" cy="553.6" r="3.55" fill="#000"/>
<circle cx="604.2" cy="552.2" r="3.55" fill="#000"/>
<circle cx="617" cy="559.6" r="3.55" fill="#000"/>
<circle cx="632.9" cy="570" r="3.55" fill="#000"/>
<circle cx="648.8" cy="583.2" r="3.55" fill="#000"/>
<circle cx="673.9" cy="606.5" r="3.55" fill="#000"/>
<circle cx="705.9" cy="630.1" r="3.55" fill="#000"/>
<circle cx="737.9" cy="656.9" r="3.55" fill="#000"/>
</g>
<rect x="97.15" y="121.85" width="9.3" height="9.1" fill="none" stroke="#141414" stroke-width="1.2"/>
<rect x="466.9" y="121.85" width="9.3" height="9.1" fill="none" stroke="#141414" stroke-width="1.2"/>
<rect x="97.15" y="504.5" width="9.3" height="9.1" fill="none" stroke="#141414" stroke-width="1.2"/>
<rect x="466.9" y="504.5" width="9.3" height="9.1" fill="none" stroke="#141414" stroke-width="1.2"/>
<path d="M110.08 1.75v4.8M110.08 379.7v9.6M110.08 767.05v-4.8M126.15 1.75v4.8M126.15 379.7v9.6M126.15 767.05v-4.8M142.22 1.75v4.8M142.22 379.7v9.6M142.22 767.05v-4.8M158.3 1.75v9.6M158.3 374.9v19.2M158.3 767.05v-9.6M174.38 1.75v4.8M174.38 379.7v9.6M174.38 767.05v-4.8M190.45 1.75v4.8M190.45 379.7v9.6M190.45 767.05v-4.8M206.52 1.75v4.8M206.52 379.7v9.6M206.52 767.05v-4.8M222.6 1.75v9.6M222.6 374.9v19.2M222.6 767.05v-9.6M238.67 1.75v4.8M238.67 379.7v9.6M238.67 767.05v-4.8M254.75 1.75v4.8M254.75 379.7v9.6M254.75 767.05v-4.8M270.82 1.75v4.8M270.82 379.7v9.6M270.82 767.05v-4.8M286.9 1.75v9.6M286.9 374.9v19.2M286.9 767.05v-9.6M302.98 1.75v4.8M302.98 379.7v9.6M302.98 767.05v-4.8M319.05 1.75v4.8M319.05 379.7v9.6M319.05 767.05v-4.8M335.12 1.75v4.8M335.12 379.7v9.6M335.12 767.05v-4.8M351.2 1.75v9.6M351.2 374.9v19.2M351.2 767.05v-9.6M367.27 1.75v4.8M367.27 379.7v9.6M367.27 767.05v-4.8M383.35 1.75v4.8M383.35 379.7v9.6M383.35 767.05v-4.8M399.43 1.75v4.8M399.43 379.7v9.6M399.43 767.05v-4.8M415.5 1.75v9.6M415.5 374.9v19.2M415.5 767.05v-9.6M431.57 1.75v4.8M431.57 379.7v9.6M431.57 767.05v-4.8M447.65 1.75v4.8M447.65 379.7v9.6M447.65 767.05v-4.8M479.82 1.75v4.8M479.82 379.7v9.6M479.82 767.05v-4.8M495.9 1.75v4.8M495.9 379.7v9.6M495.9 767.05v-4.8M511.98 1.75v4.8M511.98 379.7v9.6M511.98 767.05v-4.8M528.05 1.75v9.6M528.05 374.9v19.2M528.05 767.05v-9.6M544.12 1.75v4.8M544.12 379.7v9.6M544.12 767.05v-4.8M560.2 1.75v4.8M560.2 379.7v9.6M560.2 767.05v-4.8M576.27 1.75v4.8M576.27 379.7v9.6M576.27 767.05v-4.8M592.35 1.75v9.6M592.35 374.9v19.2M592.35 767.05v-9.6M608.42 1.75v4.8M608.42 379.7v9.6M608.42 767.05v-4.8M624.5 1.75v4.8M624.5 379.7v9.6M624.5 767.05v-4.8M640.58 1.75v4.8M640.58 379.7v9.6M640.58 767.05v-4.8M656.65 1.75v9.6M656.65 374.9v19.2M656.65 767.05v-9.6M672.73 1.75v4.8M672.73 379.7v9.6M672.73 767.05v-4.8M688.8 1.75v4.8M688.8 379.7v9.6M688.8 767.05v-4.8M704.88 1.75v4.8M704.88 379.7v9.6M704.88 767.05v-4.8M720.95 1.75v9.6M720.95 374.9v19.2M720.95 767.05v-9.6M737.02 1.75v4.8M737.02 379.7v9.6M737.02 767.05v-4.8M753.1 1.75v4.8M753.1 379.7v9.6M753.1 767.05v-4.8M769.17 1.75v4.8M769.17 379.7v9.6M769.17 767.05v-4.8M785.25 1.75v9.6M785.25 374.9v19.2M785.25 767.05v-9.6M801.33 1.75v4.8M801.33 379.7v9.6M801.33 767.05v-4.8M817.4 1.75v4.8M817.4 379.7v9.6M817.4 767.05v-4.8M94 369.3h4.8M458.95 369.3h9.6M833.5 369.3h-4.8M94 354.6h4.8M458.95 354.6h9.6M833.5 354.6h-4.8M94 339.9h9.6M454.15 339.9h19.2M833.5 339.9h-9.6M94 325.2h4.8M458.95 325.2h9.6M833.5 325.2h-4.8M94 310.5h4.8M458.95 310.5h9.6M833.5 310.5h-4.8M94 295.8h4.8M458.95 295.8h9.6M833.5 295.8h-4.8M94 281.1h4.8M458.95 281.1h9.6M833.5 281.1h-4.8M94 266.4h9.6M454.15 266.4h19.2M833.5 266.4h-9.6M94 251.7h4.8M458.95 251.7h9.6M833.5 251.7h-4.8M94 237h4.8M458.95 237h9.6M833.5 237h-4.8M94 222.3h4.8M458.95 222.3h9.6M833.5 222.3h-4.8M94 207.6h4.8M458.95 207.6h9.6M833.5 207.6h-4.8M94 192.9h9.6M454.15 192.9h19.2M833.5 192.9h-9.6M94 178.2h4.8M458.95 178.2h9.6M833.5 178.2h-4.8M94 163.5h4.8M458.95 163.5h9.6M833.5 163.5h-4.8M94 148.8h4.8M458.95 148.8h9.6M833.5 148.8h-4.8M94 134.1h4.8M458.95 134.1h9.6M833.5 134.1h-4.8M94 119.4h9.6M454.15 119.4h19.2M833.5 119.4h-9.6M94 104.7h4.8M458.95 104.7h9.6M833.5 104.7h-4.8M94 90h4.8M458.95 90h9.6M833.5 90h-4.8M94 75.3h4.8M458.95 75.3h9.6M833.5 75.3h-4.8M94 60.6h4.8M458.95 60.6h9.6M833.5 60.6h-4.8M94 45.9h9.6M454.15 45.9h19.2M833.5 45.9h-9.6M94 31.2h4.8M458.95 31.2h9.6M833.5 31.2h-4.8M94 16.5h4.8M458.95 16.5h9.6M833.5 16.5h-4.8M94 751.95h4.8M458.95 751.95h9.6M833.5 751.95h-4.8M94 737.25h4.8M458.95 737.25h9.6M833.5 737.25h-4.8M94 722.55h9.6M454.15 722.55h19.2M833.5 722.55h-9.6M94 707.85h4.8M458.95 707.85h9.6M833.5 707.85h-4.8M94 693.15h4.8M458.95 693.15h9.6M833.5 693.15h-4.8M94 678.45h4.8M458.95 678.45h9.6M833.5 678.45h-4.8M94 663.75h4.8M458.95 663.75h9.6M833.5 663.75h-4.8M94 649.05h9.6M454.15 649.05h19.2M833.5 649.05h-9.6M94 634.35h4.8M458.95 634.35h9.6M833.5 634.35h-4.8M94 619.65h4.8M458.95 619.65h9.6M833.5 619.65h-4.8M94 604.95h4.8M458.95 604.95h9.6M833.5 604.95h-4.8M94 590.25h4.8M458.95 590.25h9.6M833.5 590.25h-4.8M94 575.55h9.6M454.15 575.55h19.2M833.5 575.55h-9.6M94 560.85h4.8M458.95 560.85h9.6M833.5 560.85h-4.8M94 546.15h4.8M458.95 546.15h9.6M833.5 546.15h-4.8M94 531.45h4.8M458.95 531.45h9.6M833.5 531.45h-4.8M94 516.75h4.8M458.95 516.75h9.6M833.5 516.75h-4.8M94 502.05h9.6M454.15 502.05h19.2M833.5 502.05h-9.6M94 487.35h4.8M458.95 487.35h9.6M833.5 487.35h-4.8M94 472.65h4.8M458.95 472.65h9.6M833.5 472.65h-4.8M94 457.95h4.8M458.95 457.95h9.6M833.5 457.95h-4.8M94 443.25h4.8M458.95 443.25h9.6M833.5 443.25h-4.8M94 428.55h9.6M454.15 428.55h19.2M833.5 428.55h-9.6M94 413.85h4.8M458.95 413.85h9.6M833.5 413.85h-4.8M94 399.15h4.8M458.95 399.15h9.6M833.5 399.15h-4.8" fill="none" stroke="#1c1c1c" stroke-width="1.35"/>
<path d="M94 1.75H833.5V767.05H94ZM463.75 1.75V767.05M94 384.5H833.5" fill="none" stroke="#1c1c1c" stroke-width="1.35"/>
<g font-family="'Liberation Serif', 'DejaVu Serif', serif" fill="#000" stroke="#000" stroke-width="0.2">
<text x="82.8" y="57.3" font-size="25" text-anchor="end">6.5</text>
<text x="82.8" y="130.8" font-size="25" text-anchor="end">6.0</text>
<text x="82.8" y="204.3" font-size="25" text-anchor="end">5.5</text>
<text x="82.8" y="277.8" font-size="25" text-anchor="end">5.0</text>
<text x="82.8" y="351.3" font-size="25" text-anchor="end">4.5</text>
<text x="82.8" y="439.95" font-size="25" text-anchor="end">6.5</text>
<text x="82.8" y="513.45" font-size="25" text-anchor="end">6.0</text>
<text x="82.8" y="586.95" font-size="25" text-anchor="end">5.5</text>
<text x="82.8" y="660.45" font-size="25" text-anchor="end">5.0</text>
<text x="82.8" y="733.95" font-size="25" text-anchor="end">4.5</text>
<text x="92.1" y="795.3" font-size="25" text-anchor="middle">0</text>
<text x="156.4" y="795.3" font-size="25" text-anchor="middle">2</text>
<text x="220.7" y="795.3" font-size="25" text-anchor="middle">4</text>
<text x="285" y="795.3" font-size="25" text-anchor="middle">6</text>
<text x="349.3" y="795.3" font-size="25" text-anchor="middle">8</text>
<text x="410.9" y="795.3" font-size="25" text-anchor="middle">10</text>
<text x="461.85" y="795.3" font-size="25" text-anchor="middle">0</text>
<text x="526.15" y="795.3" font-size="25" text-anchor="middle">2</text>
<text x="590.45" y="795.3" font-size="25" text-anchor="middle">4</text>
<text x="654.75" y="795.3" font-size="25" text-anchor="middle">6</text>
<text x="719.05" y="795.3" font-size="25" text-anchor="middle">8</text>
<text x="780.65" y="795.3" font-size="25" text-anchor="middle">10</text>
<text x="229.9" y="829" font-size="26">r</text>
<text x="239.9" y="818.3" font-size="9">*</text>
<text x="250.1" y="829" font-size="26.6">(kpc)</text>
<text x="599.6" y="829" font-size="26">r</text>
<text x="609.6" y="818.3" font-size="9">*</text>
<text x="619.8" y="829" font-size="26.6">(kpc)</text>
<g transform="translate(24 206.2) rotate(-90)"><text x="0" y="0" font-size="26.4">D</text><text x="18.6" y="-12.2" font-size="15.5">*</text></g>
<g transform="translate(24 589.65) rotate(-90)"><text x="0" y="0" font-size="26.4">D</text><text x="18.6" y="-12.2" font-size="15.5">*</text></g>
<text x="440.4" y="39.5" font-size="22.7" text-anchor="end" textLength="26.9" lengthAdjust="spacingAndGlyphs">(a)</text>
<text x="809.9" y="39.5" font-size="22.7" text-anchor="end" textLength="25.3" lengthAdjust="spacingAndGlyphs">(c)</text>
<text x="440.4" y="422.55" font-size="22.7" text-anchor="end" textLength="27.5" lengthAdjust="spacingAndGlyphs">(b)</text>
<text x="810.3" y="422.55" font-size="22.7" text-anchor="end" textLength="28.6" lengthAdjust="spacingAndGlyphs">(d)</text>
<circle cx="112.4" cy="26.8" r="3.45" fill="#000"/>
<text x="119.2" y="31.9" font-size="18.2" textLength="119.3" lengthAdjust="spacingAndGlyphs">Observed data</text>
<text x="119.2" y="51.6" font-size="18.2" textLength="15.2" lengthAdjust="spacingAndGlyphs">N</text>
<text x="139.2" y="51.6" font-size="18.2" letter-spacing="0.35">=15693</text>
<text x="119.2" y="70.8" font-size="18.2" textLength="15.1" lengthAdjust="spacingAndGlyphs">D</text>
<text x="133.4" y="62.4" font-size="7" stroke="none">*</text>
<text x="136.4" y="70.8" font-size="18.2" letter-spacing="0.3">=6.01</text>
<text x="189.77" y="63.1" font-size="8.0" text-anchor="middle" stroke="none">+0.02</text>
<text x="189.77" y="73.3" font-size="8.0" text-anchor="middle" stroke="none">-0.03</text>
<text x="119.2" y="89.9" font-size="18.2" textLength="46.8" lengthAdjust="spacingAndGlyphs">h (pc)</text>
<text x="166.6" y="89.9" font-size="18.2">=1597</text>
<text x="222.12" y="81.7" font-size="8.0" text-anchor="middle" stroke="none">+109</text>
<text x="222.12" y="91.8" font-size="8.0" text-anchor="middle" stroke="none">-137</text>
<path d="M107.5 271.1L112.5 266.1L117.5 271.1L112.5 276.1Z" fill="none" stroke="#929292" stroke-width="1.1"/>
<text x="119.2" y="276.9" font-size="18.2" textLength="116.4" lengthAdjust="spacingAndGlyphs">Synthetic data</text>
<text x="119.2" y="296.6" font-size="18.2" textLength="15.2" lengthAdjust="spacingAndGlyphs">N</text>
<text x="139.2" y="296.6" font-size="18.2" letter-spacing="0.35">=15852</text>
<text x="119.2" y="315.8" font-size="18.2" textLength="15.1" lengthAdjust="spacingAndGlyphs">D</text>
<text x="133.4" y="307.4" font-size="7" stroke="none">*</text>
<text x="136.4" y="315.8" font-size="18.2" letter-spacing="0.3">=5.99</text>
<text x="189.77" y="308.1" font-size="8.0" text-anchor="middle" stroke="none">+0.03</text>
<text x="189.77" y="318.3" font-size="8.0" text-anchor="middle" stroke="none">-0.02</text>
<text x="119.2" y="334.9" font-size="18.2" textLength="46.8" lengthAdjust="spacingAndGlyphs">h (pc)</text>
<text x="166.6" y="334.9" font-size="18.2">=1635</text>
<text x="222.12" y="326.7" font-size="8.0" text-anchor="middle" stroke="none">+140</text>
<text x="222.12" y="336.8" font-size="8.0" text-anchor="middle" stroke="none">-88</text>
<circle cx="112.4" cy="409.45" r="3.45" fill="#000"/>
<text x="119.2" y="414.55" font-size="18.2" textLength="119.3" lengthAdjust="spacingAndGlyphs">Observed data</text>
<text x="119.2" y="434.25" font-size="18.2" textLength="15.2" lengthAdjust="spacingAndGlyphs">N</text>
<text x="139.2" y="434.25" font-size="18.2" letter-spacing="0.35">=5114</text>
<text x="119.2" y="453.45" font-size="18.2" textLength="15.1" lengthAdjust="spacingAndGlyphs">D</text>
<text x="133.4" y="445.05" font-size="7" stroke="none">*</text>
<text x="136.4" y="453.45" font-size="18.2" letter-spacing="0.3">=6.04</text>
<text x="189.77" y="445.75" font-size="8.0" text-anchor="middle" stroke="none">+0.05</text>
<text x="189.77" y="455.95" font-size="8.0" text-anchor="middle" stroke="none">-0.03</text>
<text x="119.2" y="472.55" font-size="18.2" textLength="46.8" lengthAdjust="spacingAndGlyphs">h (pc)</text>
<text x="166.6" y="472.55" font-size="18.2">=1911</text>
<text x="222.12" y="464.35" font-size="8.0" text-anchor="middle" stroke="none">+123</text>
<text x="222.12" y="474.45" font-size="8.0" text-anchor="middle" stroke="none">-68</text>
<path d="M107.5 653.75L112.5 648.75L117.5 653.75L112.5 658.75Z" fill="none" stroke="#929292" stroke-width="1.1"/>
<text x="119.2" y="659.55" font-size="18.2" textLength="116.4" lengthAdjust="spacingAndGlyphs">Synthetic data</text>
<text x="119.2" y="679.25" font-size="18.2" textLength="15.2" lengthAdjust="spacingAndGlyphs">N</text>
<text x="139.2" y="679.25" font-size="18.2" letter-spacing="0.35">=4836</text>
<text x="119.2" y="698.45" font-size="18.2" textLength="15.1" lengthAdjust="spacingAndGlyphs">D</text>
<text x="133.4" y="690.05" font-size="7" stroke="none">*</text>
<text x="136.4" y="698.45" font-size="18.2" letter-spacing="0.3">=6.06</text>
<text x="189.77" y="690.75" font-size="8.0" text-anchor="middle" stroke="none">+0.04</text>
<text x="189.77" y="700.95" font-size="8.0" text-anchor="middle" stroke="none">-0.03</text>
<text x="119.2" y="717.55" font-size="18.2" textLength="46.8" lengthAdjust="spacingAndGlyphs">h (pc)</text>
<text x="166.6" y="717.55" font-size="18.2">=1814</text>
<text x="220.12" y="709.35" font-size="8.0" text-anchor="middle" stroke="none">+85</text>
<text x="220.12" y="719.45" font-size="8.0" text-anchor="middle" stroke="none">-58</text>
<circle cx="482.1" cy="26.8" r="3.45" fill="#000"/>
<text x="488.9" y="31.9" font-size="18.2" textLength="119.3" lengthAdjust="spacingAndGlyphs">Observed data</text>
<text x="488.9" y="51.6" font-size="18.2" textLength="15.2" lengthAdjust="spacingAndGlyphs">N</text>
<text x="508.9" y="51.6" font-size="18.2" letter-spacing="0.35">=3945</text>
<text x="488.9" y="70.8" font-size="18.2" textLength="15.1" lengthAdjust="spacingAndGlyphs">D</text>
<text x="503.1" y="62.4" font-size="7" stroke="none">*</text>
<text x="506.1" y="70.8" font-size="18.2" letter-spacing="0.3">=5.98</text>
<text x="559.47" y="63.1" font-size="8.0" text-anchor="middle" stroke="none">+0.04</text>
<text x="559.47" y="73.3" font-size="8.0" text-anchor="middle" stroke="none">-0.02</text>
<text x="488.9" y="89.9" font-size="18.2" textLength="46.8" lengthAdjust="spacingAndGlyphs">h (pc)</text>
<text x="536.3" y="89.9" font-size="18.2">=2137</text>
<text x="591.82" y="81.7" font-size="8.0" text-anchor="middle" stroke="none">+114</text>
<text x="591.82" y="91.8" font-size="8.0" text-anchor="middle" stroke="none">-58</text>
<path d="M477.2 271.1L482.2 266.1L487.2 271.1L482.2 276.1Z" fill="none" stroke="#929292" stroke-width="1.1"/>
<text x="488.9" y="276.9" font-size="18.2" textLength="116.4" lengthAdjust="spacingAndGlyphs">Synthetic data</text>
<text x="488.9" y="296.6" font-size="18.2" textLength="15.2" lengthAdjust="spacingAndGlyphs">N</text>
<text x="508.9" y="296.6" font-size="18.2" letter-spacing="0.35">=4014</text>
<text x="488.9" y="315.8" font-size="18.2" textLength="15.1" lengthAdjust="spacingAndGlyphs">D</text>
<text x="503.1" y="307.4" font-size="7" stroke="none">*</text>
<text x="506.1" y="315.8" font-size="18.2" letter-spacing="0.3">=6.03</text>
<text x="559.47" y="308.1" font-size="8.0" text-anchor="middle" stroke="none">+0.05</text>
<text x="559.47" y="318.3" font-size="8.0" text-anchor="middle" stroke="none">-0.03</text>
<text x="488.9" y="334.9" font-size="18.2" textLength="46.8" lengthAdjust="spacingAndGlyphs">h (pc)</text>
<text x="536.3" y="334.9" font-size="18.2">=2044</text>
<text x="591.82" y="326.7" font-size="8.0" text-anchor="middle" stroke="none">+110</text>
<text x="591.82" y="336.8" font-size="8.0" text-anchor="middle" stroke="none">-67</text>
<circle cx="482.1" cy="409.45" r="3.45" fill="#000"/>
<text x="488.9" y="414.55" font-size="18.2" textLength="119.3" lengthAdjust="spacingAndGlyphs">Observed data</text>
<text x="488.9" y="434.25" font-size="18.2" textLength="15.2" lengthAdjust="spacingAndGlyphs">N</text>
<text x="508.9" y="434.25" font-size="18.2" letter-spacing="0.35">=15986</text>
<text x="488.9" y="453.45" font-size="18.2" textLength="15.1" lengthAdjust="spacingAndGlyphs">D</text>
<text x="503.1" y="445.05" font-size="7" stroke="none">*</text>
<text x="506.1" y="453.45" font-size="18.2" letter-spacing="0.3">=5.93</text>
<text x="559.47" y="445.75" font-size="8.0" text-anchor="middle" stroke="none">+0.02</text>
<text x="559.47" y="455.95" font-size="8.0" text-anchor="middle" stroke="none">-0.02</text>
<text x="488.9" y="472.55" font-size="18.2" textLength="46.8" lengthAdjust="spacingAndGlyphs">h (pc)</text>
<text x="536.3" y="472.55" font-size="18.2">=1633</text>
<text x="591.82" y="464.35" font-size="8.0" text-anchor="middle" stroke="none">+112</text>
<text x="591.82" y="474.45" font-size="8.0" text-anchor="middle" stroke="none">-78</text>
<path d="M477.2 653.75L482.2 648.75L487.2 653.75L482.2 658.75Z" fill="none" stroke="#929292" stroke-width="1.1"/>
<text x="488.9" y="659.55" font-size="18.2" textLength="116.4" lengthAdjust="spacingAndGlyphs">Synthetic data</text>
<text x="488.9" y="679.25" font-size="18.2" textLength="15.2" lengthAdjust="spacingAndGlyphs">N</text>
<text x="508.9" y="679.25" font-size="18.2" letter-spacing="0.35">=16995</text>
<text x="488.9" y="698.45" font-size="18.2" textLength="15.1" lengthAdjust="spacingAndGlyphs">D</text>
<text x="503.1" y="690.05" font-size="7" stroke="none">*</text>
<text x="506.1" y="698.45" font-size="18.2" letter-spacing="0.3">=5.97</text>
<text x="559.47" y="690.75" font-size="8.0" text-anchor="middle" stroke="none">+0.04</text>
<text x="559.47" y="700.95" font-size="8.0" text-anchor="middle" stroke="none">-0.03</text>
<text x="488.9" y="717.55" font-size="18.2" textLength="46.8" lengthAdjust="spacingAndGlyphs">h (pc)</text>
<text x="536.3" y="717.55" font-size="18.2">=1566</text>
<text x="591.82" y="709.35" font-size="8.0" text-anchor="middle" stroke="none">+157</text>
<text x="591.82" y="719.45" font-size="8.0" text-anchor="middle" stroke="none">-125</text>
</g>
</svg>
</body>
</html>
